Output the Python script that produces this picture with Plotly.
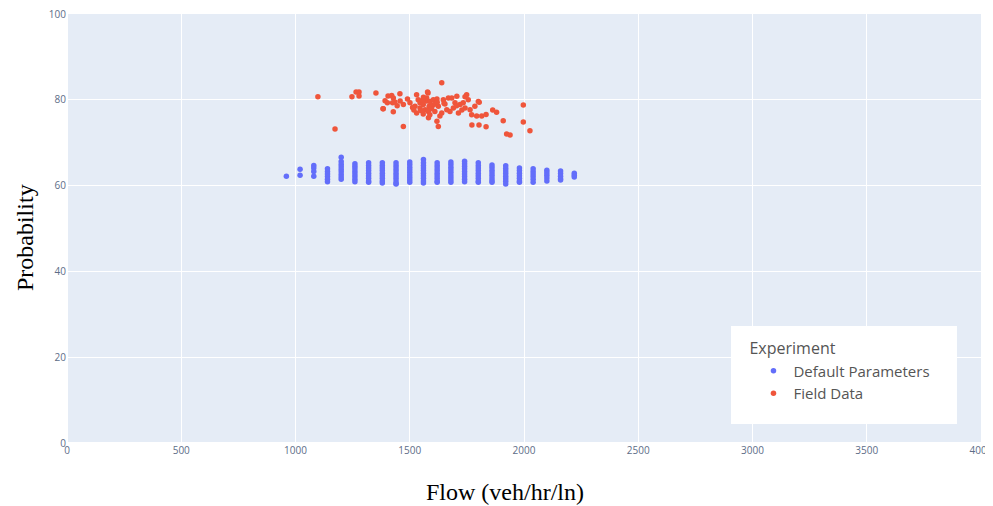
import plotly.graph_objects as go

# Default Parameters: flow levels and probability values observed at each level
default_flow_levels = [960, 1020, 1080, 1140, 1200, 1260, 1320, 1380, 1440, 1500, 1560,
                       1620, 1680, 1740, 1800, 1860, 1920, 1980, 2040, 2100, 2160, 2220]
default_prob = [
    [62.2],
    [63.8, 62.4],
    [64.7, 64.1, 63.3, 62.2],
    [63.9, 63.3, 62.7, 62.1, 61.5, 60.9],
    [66.6, 65.6, 65.0, 64.4, 63.8, 63.2, 62.6, 62.0, 61.5],
    [65.1, 64.5, 63.9, 63.3, 62.7, 62.1, 61.5, 60.9],
    [65.3, 64.7, 64.1, 63.5, 62.9, 62.3, 61.7, 61.1, 60.8],
    [65.3, 64.7, 64.1, 63.5, 62.9, 62.3, 61.7, 61.1, 60.6],
    [65.3, 64.7, 64.1, 63.5, 62.9, 62.3, 61.7, 61.1, 60.5, 60.4],
    [65.5, 64.9, 64.3, 63.7, 63.1, 62.5, 61.9, 61.3, 60.8],
    [66.1, 65.3, 64.7, 64.1, 63.5, 62.9, 62.3, 61.7, 61.1, 60.6],
    [65.3, 64.7, 64.1, 63.5, 62.9, 62.3, 61.7, 61.1, 60.8],
    [65.5, 64.9, 64.3, 63.7, 63.1, 62.5, 61.9, 61.3, 60.8],
    [65.7, 65.1, 64.5, 63.9, 63.3, 62.7, 62.1, 61.5, 60.9],
    [65.3, 64.7, 64.1, 63.5, 62.9, 62.3, 61.7, 61.1, 60.8],
    [64.8, 64.2, 63.6, 63.0, 62.4, 61.8, 61.2, 60.8],
    [64.6, 64.0, 63.4, 62.8, 62.2, 61.6, 61.0, 60.4],
    [64.1, 63.5, 62.9, 62.3, 61.7, 61.1, 60.8],
    [63.9, 63.3, 62.7, 62.1, 61.5, 60.8],
    [63.6, 63.0, 62.4, 61.8, 61.1],
    [63.4, 62.8, 62.2, 61.6, 61.3],
    [62.9, 62.4, 62.0],
]

# Field Data
field_flow = [1098, 1173, 1247, 1265, 1278, 1278, 1352, 1383, 1392, 1384, 1405, 1421, 1428,
              1435, 1425, 1402, 1457, 1472, 1428, 1472, 1501, 1530, 1537, 1545, 1523, 1545,
              1559, 1574, 1567, 1581, 1530, 1559, 1585, 1580, 1640, 1578, 1574, 1588, 1603,
              1619, 1597, 1582, 1610, 1625, 1647, 1654, 1662, 1640, 1632, 1676, 1691, 1669,
              1684, 1706, 1698, 1713, 1720, 1734, 1742, 1749, 1756, 1764, 1771, 1785, 1800,
              1793, 1815, 1582, 1588, 1619, 1625, 1772, 1803, 1834, 1834, 1863, 1880, 1909,
              1924, 1939, 1997, 1997, 2026, 1804, 1742, 1548, 1512, 1490, 1556, 1600, 1612,
              1650, 1595, 1560, 1620, 1705, 1728, 1458, 1445, 1518]
field_prob = [80.7, 73.2, 80.7, 81.8, 81.8, 80.9, 81.6, 77.9, 79.8, 77.9, 80.9, 81.0, 80.4,
              79.5, 79.3, 79.3, 81.4, 78.9, 77.2, 73.8, 79.3, 81.2, 80.0, 79.3, 78.5, 78.1,
              78.9, 79.7, 77.7, 77.3, 76.9, 76.7, 78.5, 81.6, 84.0, 81.8, 80.4, 79.6, 80.0,
              80.2, 78.5, 77.7, 77.3, 78.5, 80.0, 79.0, 77.7, 76.9, 76.2, 77.3, 78.1, 80.4,
              80.4, 80.8, 79.3, 76.9, 78.9, 79.3, 78.1, 81.2, 80.0, 77.7, 76.5, 78.5, 79.6,
              76.2, 76.2, 75.8, 76.5, 75.0, 73.8, 74.1, 74.1, 73.7, 76.6, 77.6, 77.1, 75.1,
              72.0, 71.8, 78.8, 74.8, 72.8, 79.4, 80.7, 77.5, 78.2, 80.2, 79.9, 78.8, 79.0,
              79.2, 77.9, 80.6, 79.4, 78.6, 77.6, 79.7, 78.6, 77.6]

x_ticks = [0, 500, 1000, 1500, 2000, 2500, 3000, 3500, 4000]
y_ticks = [0, 20, 40, 60, 80, 100]

default_x = []
default_y = []
for f, probs in zip(default_flow_levels, default_prob):
    for p in probs:
        default_x.append(f)
        default_y.append(p)

fig = go.Figure()
fig.add_trace(go.Scatter(x=default_x, y=default_y, mode="markers", name="Default Parameters",
                         marker=dict(color="#636efa", size=5.5)))
fig.add_trace(go.Scatter(x=field_flow, y=field_prob, mode="markers", name="Field Data",
                         marker=dict(color="#EF553B", size=5.5)))

tick_font = dict(family="Open Sans, Arial, sans-serif", size=10, color="#5d6d87")
fig.update_layout(
    width=985, height=498,
    margin=dict(l=59, r=12, t=6, b=63, autoexpand=False),
    paper_bgcolor="white",
    plot_bgcolor="#E5ECF6",
    showlegend=True,
    legend=dict(
        title=dict(text="Experiment", font=dict(size=16, color="#555555")),
        font=dict(family="Open Sans, Arial, sans-serif", size=15, color="#555555"),
        bgcolor="rgba(0,0,0,0)",
        x=0.7445, y=0.255, xanchor="left", yanchor="top",
        indentation=6,
    ),
    shapes=[dict(type="rect", xref="paper", yref="paper", x0=0.7265, x1=0.9737,
                 y0=0.0443, y1=0.2727, fillcolor="white", line=dict(width=0), layer="above")],
    xaxis=dict(range=[0, 4000], tickvals=x_ticks, gridcolor="white", zeroline=True,
               zerolinecolor="white", tickfont=tick_font, showline=False,
               ticklabeloverflow="allow"),
    yaxis=dict(range=[0, 100], tickvals=y_ticks, gridcolor="white", zeroline=True,
               zerolinecolor="white", tickfont=tick_font, showline=False,
               ticklabeloverflow="allow"),
    annotations=[
        dict(text="Flow (veh/hr/ln)", xref="paper", yref="paper", x=0.479, y=-0.114,
             xanchor="center", yanchor="middle", showarrow=False,
             font=dict(family="Liberation Serif, Times New Roman, serif", size=24, color="black")),
        dict(text="Probability", xref="paper", yref="paper", x=-0.046, y=0.48,
             xanchor="center", yanchor="middle", showarrow=False, textangle=-90,
             font=dict(family="Liberation Serif, Times New Roman, serif", size=24, color="black")),
    ],
)

fig.write_html("out.html")
